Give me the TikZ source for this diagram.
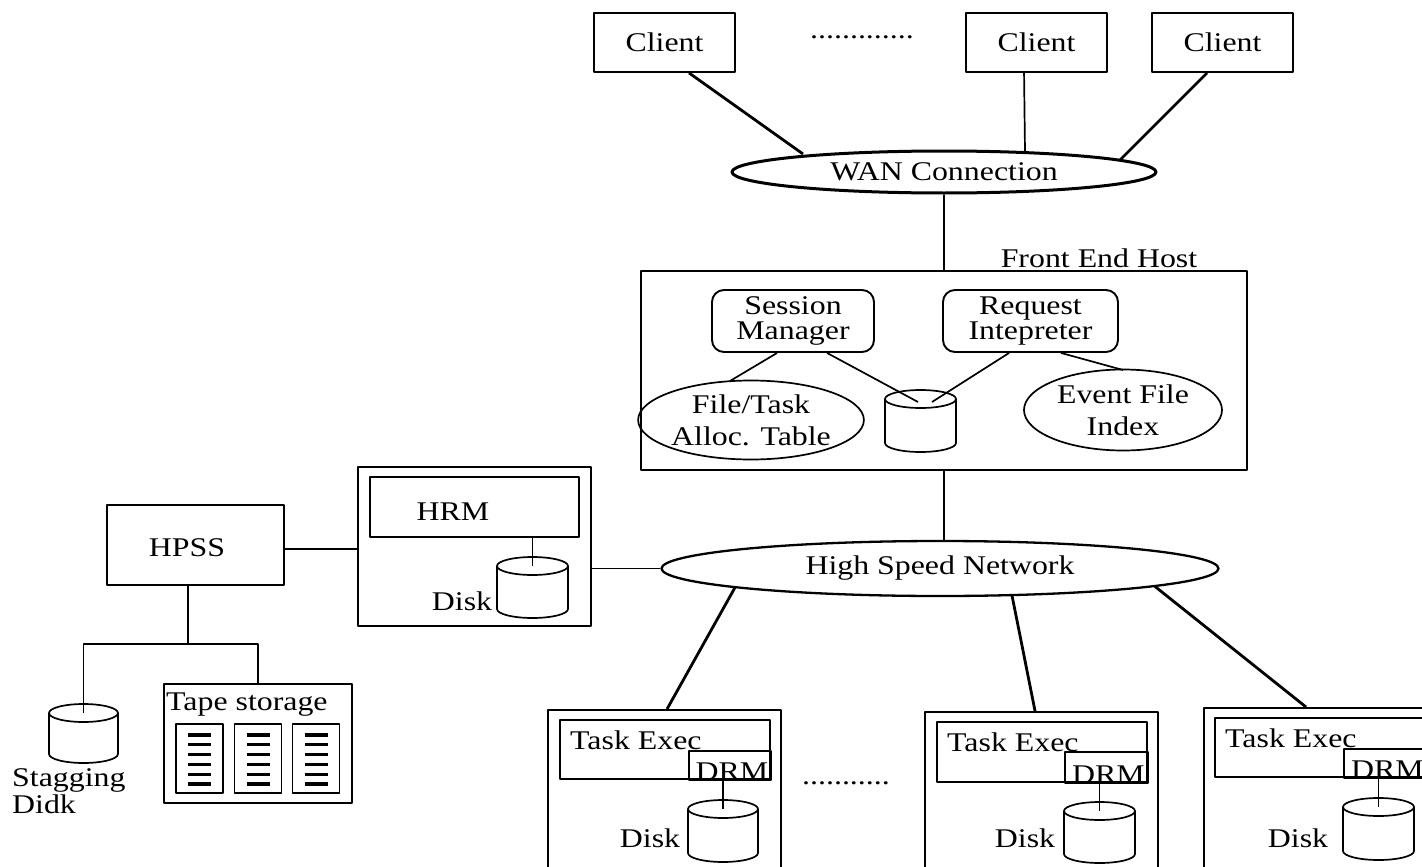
\documentclass[tikz,border=0pt]{standalone}
\usepackage{fontspec}
\setmainfont{Liberation Serif}[FakeStretch=1.18]
\usetikzlibrary{shapes.geometric,calc}

% disk drum: name, centre x, top-ellipse centre y, x radius, lowest y
\newcommand\drumdisk[5]{%
  \coordinate (#1) at (#2,#3);
  \draw[link] (#2,#3) ellipse [x radius=#4, y radius=9];
  \draw[link] ({#2-#4},#3) -- ({#2-#4},{#5-9})
     arc[start angle=180, end angle=0, x radius=#4, y radius=9] -- ({#2+#4},#3);
}

\begin{document}
\begin{tikzpicture}[x=1pt, y=-1pt, line join=round,
  every node/.append style={font=\fontsize{27}{32}\selectfont},
  frame/.style={draw, line width=1.9pt, inner sep=0pt},
  rbox/.style={frame, rounded corners=12pt, align=center,
               font=\fontsize{27}{25}\selectfont},
  oval/.style={draw, ellipse, line width=1.7pt, inner sep=0pt, align=center},
  link/.style={line width=1.7pt},
  heavy/.style={line width=2.8pt},
  txt/.style={inner sep=0pt}]

\path[use as bounding box, fill=white] (0,0) rectangle (1422,867);
\clip (0,0) rectangle (1422,867);

% ---------------- clients and WAN ----------------
\node[frame, minimum width=141, minimum height=59] (c1) at (664.5,42.5) {Client};
\node[frame, minimum width=141, minimum height=59] (c2) at (1036.5,42.5) {Client};
\node[frame, minimum width=141, minimum height=59] (c3) at (1222.5,42.5) {Client};
\node[txt] (cdots) at (862,37) {.............};

\node[oval, line width=3pt, minimum width=424, minimum height=42] (wan) at (944,172) {WAN Connection};

\draw[heavy] ($(c1.south west)+(96,0)$) -- ($(wan.center)+(-141,-18)$);
\draw[link]  ($(c2.south west)+(59,0)$) -- ($(wan.center)+(81,-20)$);
\draw[heavy] ($(c3.south west)+(56,0)$) -- ($(wan.center)+(176,-12)$);

% ---------------- front end host ----------------
\node[frame, minimum width=606, minimum height=199] (fe) at (944,370.5) {};
\node[txt, anchor=base] (fehost) at (1099,267) {Front End Host};
\draw[link] (wan.south) -- (fe.north);

\node[rbox, minimum width=162, minimum height=62] (sm) at (793,321) {Session\\Manager};
\node[rbox, minimum width=175, minimum height=62] (ri) at (1030.5,321) {Request\\Intepreter};
\node[oval, minimum width=197, minimum height=79] (ftat) at (751,420) {File/Task\\Alloc. Table};
\node[oval, minimum width=198, minimum height=81] (efi) at (1123,410) {Event File\\Index};
\drumdisk{fedisk}{920.5}{399}{35.5}{452}

\draw[link] ($(sm.south west)+(66,0)$) -- ($(ftat.center)+(-21,-39)$);
\draw[link] ($(sm.south west)+(116,0)$) -- ($(fedisk)+(-2.5,3)$);
\draw[link] ($(ri.south west)+(67,0)$) -- ($(fedisk)+(11.5,3)$);
\draw[link] ($(ri.south west)+(119,0)$) -- ($(efi.center)+(0,-40)$);

% ---------------- high speed network ----------------
\node[oval, line width=2.3pt, minimum width=557, minimum height=55] (hsn) at (940,568.5) {High Speed Network};
\draw[link] (fe.south) -- (fe.south |- hsn.north);

% ---------------- HRM ----------------
\node[frame, minimum width=233, minimum height=159] (hrm) at (474.5,546.5) {};
\node[frame, minimum width=209, minimum height=60] (hrmin) at (474.5,507) {};
\node[txt] (hrmlabel) at (453,512) {HRM};
\drumdisk{hrmdisk}{532.5}{566}{35.5}{618}
\node[txt] (hrmdisklabel) at (462,601) {Disk};
\draw[link] (hrmin.south -| hrmdisk) -- (hrmdisk);
\draw[link] (hsn.west -| hrm.east) -- (hsn.west);

% ---------------- HPSS and its storage ----------------
\node[frame, minimum width=177, minimum height=80] (hpss) at (195.5,545) {};
\node[txt] (hpsslabel) at (187,548) {HPSS};
\coordinate (hp1) at ($(hpss.east)+(0,4)$);
\draw[link] (hp1) -- (hp1 -| hrm.west);

\coordinate (split) at (188,644);
\drumdisk{stg}{83.5}{713}{34.5}{763}
\node[frame, minimum width=188, minimum height=119] (tape) at (258,743.5) {};
\node[txt, anchor=west] (tapelabel) at (166,705) {Tape storage};
\draw[link] (split |- hpss.south) -- (split);
\draw[link] (stg) -- (stg |- split) -- (tape.north |- split) -- (tape.north);
\node[txt, anchor=west, align=left, font=\fontsize{27}{27}\selectfont] (stglabel) at (12,791) {Stagging\\Didk};

% tape racks
\foreach \rx [count=\k] in {199.5,258,316} {
  \node[frame, line width=1.7pt, minimum width=47, minimum height=69] (rack\k) at (\rx,758.5) {};
  \foreach \j in {0,...,5}
    \draw[line width=3.2pt] ({\rx-11.5},{735+\j*9.8}) -- ({\rx+11.5},{735+\j*9.8});
}

% ---------------- task execution hosts ----------------
% host 1
\node[frame, minimum width=233, minimum height=190] (t1) at (664.5,805) {};
\node[frame, minimum width=210, minimum height=59] (t1in) at (665,749.5) {};
\node[frame, minimum width=82, minimum height=29, anchor=north west] (drm1) at (688,750) {};
\node[txt, anchor=south] (drm1label) at ($(drm1.south)+(2,0)$) {DRM};
\node[txt, anchor=west] (t1label) at (570,740) {Task Exec};
\drumdisk{d1}{723}{809}{35}{862}
\node[txt] (d1label) at (650,838) {Disk};
\draw[link] (drm1.south -| d1) -- (d1);

% host 2
\node[frame, minimum width=233, minimum height=190] (t2) at (1041.5,807) {};
\node[frame, minimum width=210, minimum height=60] (t2in) at (1042,752) {};
\node[frame, minimum width=83, minimum height=31, anchor=north west] (drm2) at (1064,751) {};
\node[txt, anchor=south] (drm2label) at ($(drm2.south)+(2,0)$) {DRM};
\node[txt, anchor=west] (t2label) at (947,742) {Task Exec};
\drumdisk{d2}{1099.5}{811}{35.5}{863}
\node[txt] (d2label) at (1025,838) {Disk};
\draw[link] (drm2.south -| d2) -- (d2);

% host 3
\node[frame, minimum width=233, minimum height=190] (t3) at (1320.5,803) {};
\node[frame, minimum width=211, minimum height=59] (t3in) at (1320.5,747.5) {};
\node[frame, minimum width=83, minimum height=29, anchor=north west] (drm3) at (1343,748) {};
\node[txt, anchor=south] (drm3label) at ($(drm3.south)+(2,0)$) {DRM};
\node[txt, anchor=west] (t3label) at (1225,738) {Task Exec};
\drumdisk{d3}{1378.5}{807}{35.5}{860}
\node[txt] (d3label) at (1298,838) {Disk};
\draw[link] (drm3.south -| d3) -- (d3);

\node[txt] (tdots) at (846,783) {...........};

% network links to the hosts
\draw[heavy] ($(hsn.center)+(-205,19)$) -- ($(t1.north west)+(120,0)$);
\draw[heavy] ($(hsn.center)+(72,27)$) -- ($(t2.north west)+(111,0)$);
\draw[heavy] ($(hsn.center)+(215,18)$) -- ($(t3.north west)+(103,0)$);

\end{tikzpicture}
\end{document}
